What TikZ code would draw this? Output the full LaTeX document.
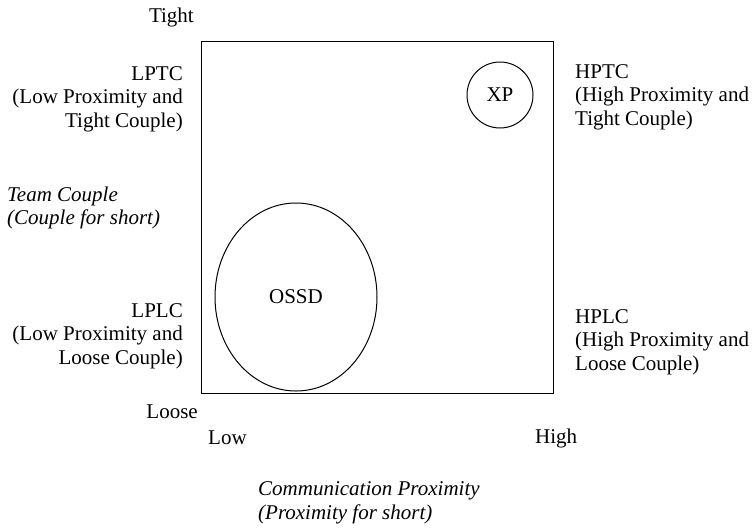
\documentclass[tikz,border=0pt]{standalone}
\usepackage{fontspec}
\setmainfont{LiberationSerif}[Extension=.ttf,UprightFont=*-Regular,ItalicFont=*-Italic,BoldFont=*-Bold]
\usetikzlibrary{shapes.geometric}
\begin{document}
\begin{tikzpicture}[x=1pt,y=-1pt,
  lbl/.style={inner sep=0pt,font=\fontsize{21}{23.5}\selectfont},
  lblr/.style={lbl,align=right,anchor=east},
  lbll/.style={lbl,align=left,anchor=west},
  shp/.style={draw,line width=1pt,inner sep=0pt}]
\useasboundingbox (0,0) rectangle (755,528);
\node[shp,minimum width=352pt,minimum height=352pt] (box) at (377,217) {};
\node[shp,circle,minimum size=66pt,lbl] (xp) at (500,95) {XP};
\node[shp,ellipse,minimum width=162pt,minimum height=188pt,lbl] (ossd) at (296,297) {OSSD};
\node[lbl,anchor=east] (tight) at (194,17) {Tight};
\node[lblr] (lptc) at (183,99) {LPTC\\(Low Proximity and\\Tight Couple)};
\node[lbll,font=\fontsize{21}{23.5}\selectfont\itshape] (team) at (7,208) {Team Couple\\(Couple for short)};
\node[lblr] (lplc) at (183,336) {LPLC\\(Low Proximity and\\Loose Couple)};
\node[lbl,anchor=east] (loose) at (198,412) {Loose};
\node[lbl,anchor=west] (low) at (208,438) {Low};
\node[lbl,anchor=west] (high) at (535,438) {High};
\node[lbll,font=\fontsize{21}{23.5}\selectfont\itshape] (comm) at (258,503) {Communication Proximity\\(Proximity for short)};
\node[lbll] (hptc) at (575,97) {HPTC\\(High Proximity and\\Tight Couple)};
\node[lbll] (hplc) at (575,342) {HPLC\\(High Proximity and\\Loose Couple)};
\end{tikzpicture}
\end{document}
